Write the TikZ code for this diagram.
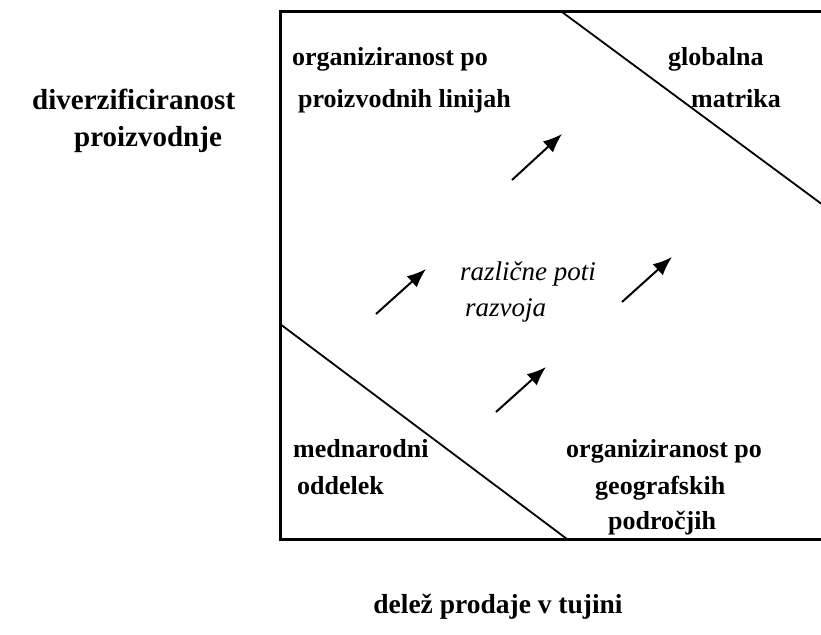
\documentclass[tikz,border=0pt]{standalone}
\usepackage{fontspec}
\setmainfont{Liberation Serif}
\usetikzlibrary{arrows.meta}
\tikzset{
  boxlabel/.style={anchor=base west, inner sep=0pt, font=\fontsize{26}{31}\selectfont\bfseries},
  axislabel/.style={anchor=base west, inner sep=0pt, font=\fontsize{29}{34}\selectfont\bfseries},
  bottomlabel/.style={anchor=base, inner sep=0pt, font=\fontsize{27.5}{33}\selectfont\bfseries},
  pathlabel/.style={anchor=base west, inner sep=0pt, font=\fontsize{27}{32}\selectfont\itshape},
  frameline/.style={line width=3pt},
  divline/.style={line width=1.8pt},
  growarrow/.style={line width=2pt, -{Latex[length=19pt,width=15pt]}}
}
\begin{document}
\begin{tikzpicture}[x=1pt,y=-1pt]
\useasboundingbox (0,0) rectangle (821,634);
% frame
\coordinate (tr) at (823,12);
\coordinate (tl) at (280,12);
\coordinate (bl) at (280,539);
\coordinate (br) at (823,539);
\draw[frameline] (tr) -- (tl) -- (bl) -- (br);
% dividing lines
\coordinate (d1a) at (562,12);
\coordinate (d1b) at (823,205);
\coordinate (d2a) at (280,324);
\coordinate (d2b) at (567,539);
\draw[divline] (d1a) -- (d1b);
\draw[divline] (d2a) -- (d2b);
% arrows
\coordinate (a1s) at (512,180); \coordinate (a1e) at (562,134);
\coordinate (a2s) at (376,314); \coordinate (a2e) at (426,269);
\coordinate (a3s) at (622,302); \coordinate (a3e) at (672,257);
\coordinate (a4s) at (496,412); \coordinate (a4e) at (546,367);
\draw[growarrow] (a1s) -- (a1e);
\draw[growarrow] (a2s) -- (a2e);
\draw[growarrow] (a3s) -- (a3e);
\draw[growarrow] (a4s) -- (a4e);
% labels in box
\node[boxlabel] (pl1) at (292,65) {organiziranost po};
\node[boxlabel] (pl2) at (298,107) {proizvodnih linijah};
\node[boxlabel] (gm1) at (668,65) {globalna};
\node[boxlabel] (gm2) at (691,107) {matrika};
\node[boxlabel] (mo1) at (293,457) {mednarodni};
\node[boxlabel] (mo2) at (297,494) {oddelek};
\node[boxlabel] (gp1) at (566,457) {organiziranost po};
\node[boxlabel] (gp2) at (595,494) {geografskih};
\node[boxlabel] (gp3) at (608,529) {področjih};
\node[pathlabel] (rp1) at (460,280) {različne poti};
\node[pathlabel] (rp2) at (465,316) {razvoja};
% axis labels
\node[axislabel] (ax1) at (32,109) {diverzificiranost};
\node[axislabel] (ax2) at (74,146) {proizvodnje};
\node[bottomlabel] (ax3) at (498,613) {delež prodaje v tujini};
\end{tikzpicture}
\end{document}
